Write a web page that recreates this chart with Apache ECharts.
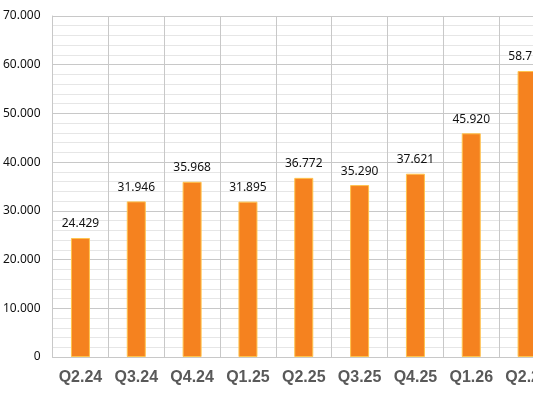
<!DOCTYPE html>
<html><head><meta charset="utf-8">
<script src="https://cdn.jsdelivr.net/npm/echarts@6/dist/echarts.min.js"></script>
<style>html,body{margin:0;padding:0;background:#fff;overflow:hidden;width:533px;height:400px}#c{width:562px;height:400px}</style>
</head><body><div id="c"></div>
<script>
const categories = ['Q2.24','Q3.24','Q4.24','Q1.25','Q2.25','Q3.25','Q4.25','Q1.26','Q2.26'];
const values = [24429, 31946, 35968, 31895, 36772, 35290, 37621, 45920, 58710];
const yTicks = [0, 10000, 20000, 30000, 40000, 50000, 60000, 70000];

function fmt(v){
  if (v === 0) return '0';
  const s = String(Math.round(v));
  return s.replace(/\B(?=(\d{3})+(?!\d))/g, '.');
}

const chart = echarts.init(document.getElementById('c'), null, {renderer:'canvas'});
chart.setOption({
  animation:false,
  backgroundColor:'#ffffff',
  grid:{left:51, right:7, top:16, bottom:43, containLabel:false},
  xAxis:{
    type:'category', data:categories, boundaryGap:true,
    axisLine:{show:true, lineStyle:{color:'#c8c8c8', width:1}},
    axisTick:{show:false},
    splitLine:{show:true, interval:0, lineStyle:{color:'#c8c8c8', width:1}},
    axisLabel:{interval:0, hideOverlap:false, color:'#595959', fontSize:16, fontWeight:'bold', fontFamily:'Liberation Sans, Arial, sans-serif', margin:13}
  },
  yAxis:{
    type:'value', min:yTicks[0], max:yTicks[yTicks.length-1], interval:10000,
    axisLine:{show:true, lineStyle:{color:'#c8c8c8'}},
    axisTick:{show:false},
    axisLabel:{color:'#111', fontSize:12, fontFamily:'Noto Sans, sans-serif', margin:12, formatter:fmt},
    splitLine:{show:true, lineStyle:{color:'#c8c8c8', width:1}},
    minorTick:{show:false, splitNumber:5},
    minorSplitLine:{show:true, lineStyle:{color:'#e6e6e6', width:1}}
  },
  series:[{
    type:'bar', data:values, barWidth:19,
    itemStyle:{color:'#F5821F', borderColor:'#FFC34D', borderWidth:1},
    label:{show:true, position:'top', distance:8, color:'#111', fontSize:12, fontFamily:'Noto Sans, sans-serif', formatter:p=>fmt(p.value)}
  }]
});
</script></body></html>
